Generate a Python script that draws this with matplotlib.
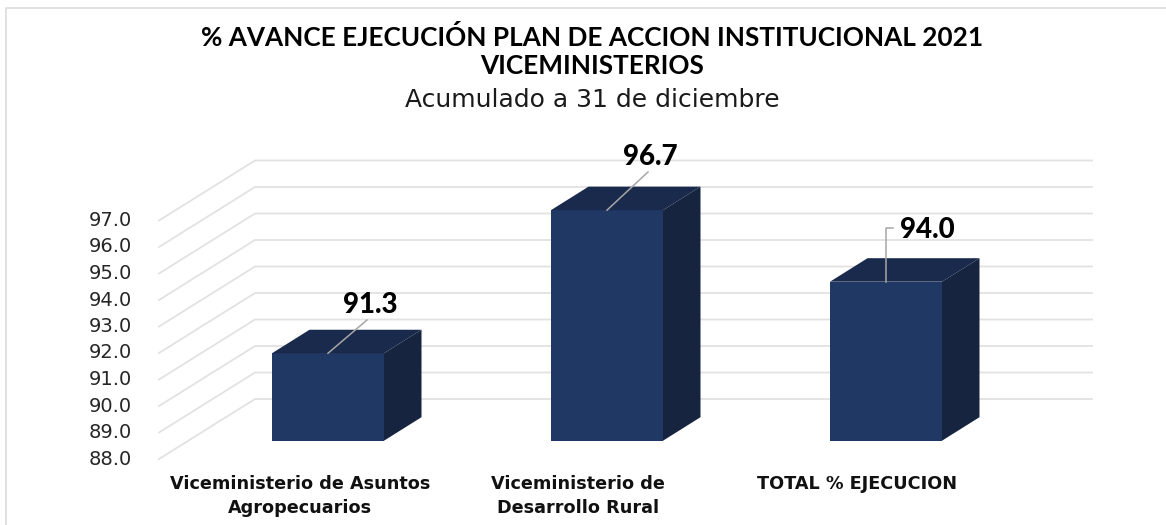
import matplotlib
matplotlib.use("Agg")
import matplotlib.pyplot as plt
from matplotlib.patches import Polygon

categories = ["Viceministerio de Asuntos\nAgropecuarios", "Viceministerio de\nDesarrollo Rural", "TOTAL % EJECUCION"]
values = [91.3, 96.7, 94.0]
ticks = [88, 89, 90, 91, 92, 93, 94, 95, 96, 97]

W, H = 1166, 525
BAR_SPACING = 279.0  # px between categories
UNIT = 26.5  # px per y unit
BASE_PX = 440.7  # pixel row of value 88 on the bar front


def vy(py):
    # pixel row -> value units, used only to set up the axes and offsets
    return 88 + (BASE_PX - py) / UNIT


fig = plt.figure(figsize=(W / 100, H / 100), dpi=100)
ax = fig.add_axes([0, 0, 1, 1])
ax.set_xlim(-328 / BAR_SPACING, (W - 328) / BAR_SPACING)
ax.set_ylim(vy(H), vy(0))
ax.axis("off")

# frame of the chart area, no line on the right
px = lambda x: (x - 328) / BAR_SPACING
ax.plot([px(6), px(6), px(W)], [vy(H), vy(8), vy(8)], color="#dcdcdc", lw=1.2)

# grid: floor offset of the wall relative to the bar front
wall_front = vy(459) - 88
wall_back = vy(399) - 88
for t in ticks:
    ax.plot([px(159), px(255), px(1092)], [t + wall_front, t + wall_back, t + wall_back],
            color="#e2e2e2", lw=1.3, zorder=1)
    ax.text(px(132), t + wall_front, f"{t:.1f}", ha="right", va="center",
            fontsize=14, color="#262626", family="DejaVu Sans")

half = 56 / BAR_SPACING
dx = 37.5 / BAR_SPACING
dy = 23.5 / UNIT
for i, v in enumerate(values):
    l, r = i - half, i + half
    ax.add_patch(Polygon([(l, 88), (r, 88), (r, v), (l, v)], fc="#203864", ec="none", zorder=2))
    ax.add_patch(Polygon([(l, v), (r, v), (r + dx, v + dy), (l + dx, v + dy)], fc="#1a2a4c", ec="none", zorder=2))
    ax.add_patch(Polygon([(r, 88), (r + dx, 88 + dy), (r + dx, v + dy), (r, v)], fc="#16243f", ec="none", zorder=2))

# data labels with leader lines
ax.plot([0, px(367)], [values[0], vy(320)], color="#a6a6a6", lw=1.1, zorder=3)
ax.plot([1, px(648)], [values[1], vy(172)], color="#a6a6a6", lw=1.1, zorder=3)
ax.plot([2, 2, px(893)], [values[2], vy(228), vy(228)], color="#a6a6a6", lw=1.1, zorder=3)
label_pos = [(370, 305), (650, 157), (927, 230)]
for (x, y), v in zip(label_pos, values):
    ax.text(px(x), vy(y), f"{v:.1f}", ha="center", va="center", fontsize=20,
            fontweight=900, color="black", family="Lato", zorder=4)

# category labels
cat_x = [300, 578, 857]
for x, c in zip(cat_x, categories):
    ax.text(px(x), vy(475), c, ha="center", va="top", fontsize=12.7, fontweight="bold",
            color="#111111", family="DejaVu Sans", linespacing=1.4)

ax.text(px(592), vy(37), "% AVANCE EJECUCIÓN PLAN DE ACCION INSTITUCIONAL 2021", ha="center", va="center",
        fontsize=18.85, fontweight="bold", color="black", family="Lato")
ax.text(px(592), vy(66), "VICEMINISTERIOS", ha="center", va="center",
        fontsize=18.85, fontweight="bold", color="black", family="Lato")
ax.text(px(592), vy(100), "Acumulado a 31 de diciembre", ha="center", va="center",
        fontsize=18, color="#1a1a1a", family="DejaVu Sans")

fig.savefig("out.png", dpi=100)
